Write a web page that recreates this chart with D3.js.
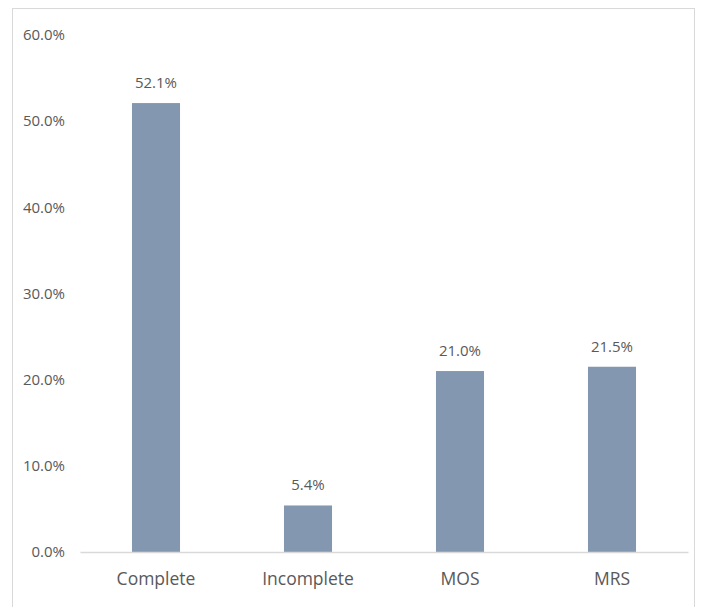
<!DOCTYPE html>
<html>
<head>
<meta charset="utf-8">
<script src="https://cdn.jsdelivr.net/npm/d3@7"></script>
<style>
  body { margin: 0; background: #fff; }
  text { font-family: "Open Sans", sans-serif; fill: #595959; }
</style>
</head>
<body>
<div id="chart"></div>
<script>
// data
var categories = ["Complete", "Incomplete", "MOS", "MRS"];
var values = [52.1, 5.4, 21.0, 21.5];
var yTicks = [0, 10, 20, 30, 40, 50, 60];

var W = 709, H = 607;
var margin = {top: 35, right: 21, bottom: 55, left: 80};

var svg = d3.select("#chart").append("svg")
  .attr("width", W)
  .attr("height", H);

// chart frame
svg.append("rect")
  .attr("x", 12.5).attr("y", 8.5)
  .attr("width", 682).attr("height", 640)
  .attr("fill", "none")
  .attr("stroke", "#d9d9d9");

var x = d3.scaleBand()
  .domain(categories)
  .range([margin.left, W - margin.right])
  .paddingInner(0.684)
  .paddingOuter(0.342);

var y = d3.scaleLinear()
  .domain([0, 60])
  .range([H - margin.bottom, margin.top]);

// y axis (labels only)
var yAxis = d3.axisLeft(y)
  .tickValues(yTicks)
  .tickFormat(function(d) { return d.toFixed(1) + "%"; })
  .tickSize(0)
  .tickPadding(15);

var gy = svg.append("g")
  .attr("transform", "translate(" + margin.left + ",0)")
  .call(yAxis);
gy.select(".domain").remove();
gy.selectAll("text").style("font-size", "15px").style("font-family", "'Open Sans', sans-serif").attr("fill", "#595959");

// bars
svg.selectAll("rect.bar")
  .data(values)
  .enter()
  .append("rect")
  .attr("class", "bar")
  .attr("x", function(d, i) { return x(categories[i]); })
  .attr("width", x.bandwidth())
  .attr("y", function(d) { return y(d); })
  .attr("height", function(d) { return y(0) - y(d); })
  .attr("fill", "#8497b0");

// x axis
var xAxis = d3.axisBottom(x)
  .tickSize(0)
  .tickPadding(21);

var gx = svg.append("g")
  .attr("transform", "translate(0," + y(0) + ")")
  .call(xAxis);
gx.select(".domain").attr("stroke", "#d9d9d9").attr("stroke-width", 1.5);
gx.selectAll("text").style("font-size", "17.5px").style("font-family", "'Open Sans', sans-serif").attr("fill", "#595959");

// data labels
svg.selectAll("text.lbl")
  .data(values)
  .enter()
  .append("text")
  .attr("class", "lbl")
  .attr("x", function(d, i) { return x(categories[i]) + x.bandwidth() / 2; })
  .attr("y", function(d) { return y(d) - 15; })
  .attr("text-anchor", "middle")
  .style("font-size", "15px")
  .text(function(d) { return d.toFixed(1) + "%"; });
</script>
</body>
</html>
